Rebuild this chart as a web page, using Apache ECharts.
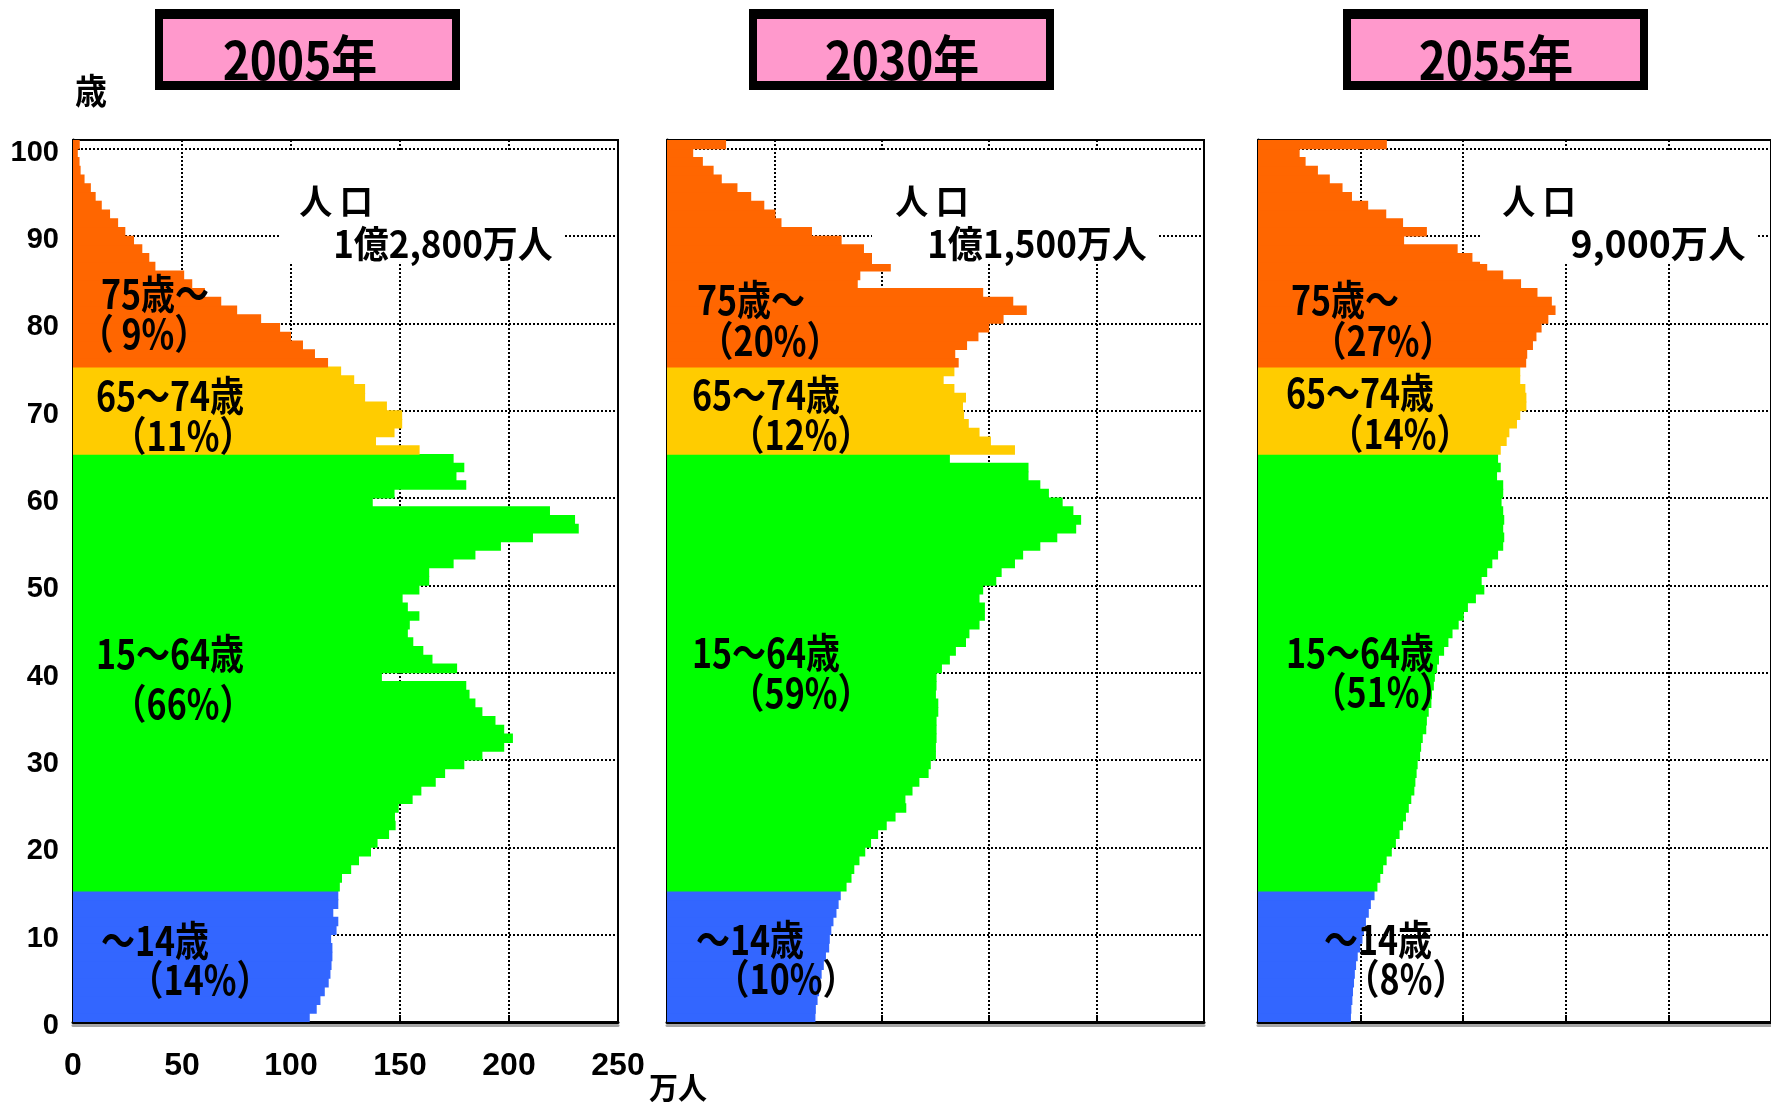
<!DOCTYPE html>
<html><head><meta charset="utf-8">
<script src="https://cdn.jsdelivr.net/npm/echarts@6/dist/echarts.min.js"></script>
<style>html,body{margin:0;padding:0;background:#fff;}#chart{width:1771px;height:1102px;}</style>
</head><body><div id="chart"></div>
<script>
// ---- data ----
const ages = [0,1,2,3,4,5,6,7,8,9,10,11,12,13,14,15,16,17,18,19,20,21,22,23,24,25,26,27,28,29,30,31,32,33,34,35,36,37,38,39,40,41,42,43,44,45,46,47,48,49,50,51,52,53,54,55,56,57,58,59,60,61,62,63,64,65,66,67,68,69,70,71,72,73,74,75,76,77,78,79,80,81,82,83,84,85,86,87,88,89,90,91,92,93,94,95,96,97,98,99,100];
const years = ['2005年','2030年','2055年'];
const totals = ['1億2,800万人','1億1,500万人','9,000万人'];
const groupNames = ['75歳～','65～74歳','15～64歳','～14歳'];
const shares2005 = ['（ 9%）','（11%）','（66%）','（14%）'];
const shares2030 = ['（20%）','（12%）','（59%）','（10%）'];
const shares2055 = ['（27%）','（14%）','（51%）','（8%）'];
const xTickLabels = [0,50,100,150,200,250];
const xUnit = '万人';
const yUnit = '歳';
// population by single age (万人), index = age (100 = 100歳以上)
const pop2005 = [108.6,111.8,113.5,115.5,117.3,118.1,118.6,119,119,118.4,
 120.9,121.7,119.4,121.7,121.7,
 122.4,123.4,127.6,131.2,136.7,139.7,145,148,147.7,149.4,
 155.8,159.8,166.4,170.7,179.5,187.8,197.8,201.8,197.8,193.8,
 187.8,184.6,181.9,180.4,141.7,176.2,164.9,160.7,156.1,153.6,
 154.5,158.9,153.6,151.2,158.9,163.4,163.4,174.6,184.6,196.3,
 211,232,230.3,218.8,137.5,147.5,180.4,175.9,179.5,174.6,
 159,139,147.5,151,151,144,134,134,129,123,
 117,111,105.5,100,95,86.3,75.3,68,60.5,54.7,
 51,37.8,35,31.8,28,24,20.7,17,13.2,10.4,
 8.2,5.3,3.5,3,2.2,3.1];
const pop2030 = [69.1,69.3,70.1,70.8,71.3,72,73,74,75.5,75.8,
 76.5,77.5,78.9,79.9,80.9,
 83.6,85.9,87.2,89.6,92.3,95,98.3,102.3,106.4,111.4,
 111,114.3,117.5,121.8,122.8,125.2,125.2,125.5,125.5,125.5,
 126.3,126.3,125.2,125.5,125.5,128,131.7,134.5,139.2,140.8,
 145.5,148,148,145.5,147.2,153.3,155.8,162,165.8,173.8,
 181.7,190.5,192.8,189.2,184.2,177.8,173.8,168.3,168.3,131.7,
 162,150.8,145.5,140.5,138.3,137.8,139.2,133.8,128.8,133.8,
 135.8,134.2,139.7,145,150,156.7,167.5,161.2,147.2,88.8,
 90,104.2,95.5,91.7,81.3,67.5,53.3,50.5,45.3,39.2,
 32.8,25.5,21.7,16.7,12.2,27.5];
const pop2055 = [45.3,45.5,46,46.3,46.8,47.2,47.8,48.6,49.8,50.9,
 51.6,52.6,54,55,56.8,
 58.2,59.6,61,62.7,65.2,67.2,69,70.7,72.1,73.5,
 74.7,76.2,76.7,77.3,77.8,79,79.5,80.3,82,82.3,
 83.2,84.5,84.8,85.7,86.2,87.3,88.2,90.7,92.8,94.8,
 97.8,100.3,102.3,106.2,110.3,109,111.7,114.2,117,119.5,
 120,119.5,120,119.5,118.7,119.5,119.5,116.5,118.3,117,
 118.3,121.2,122.5,126.2,127.8,130.8,130.8,130.3,127.8,127.8,
 130.7,131.2,134,135.7,138.2,141.5,145,143.2,136.2,128.2,
 119.5,111.7,104.5,97.3,71.2,82.3,70.7,62.5,53.7,45.8,
 41.2,35,29.2,23.2,20.3,62.8];
const groupFloor = [75,65,15,0];

// ---- styling / layout ----
const COLORS = ['#FF6600','#FFCC00','#00FF00','#3366FF'];
const CJK = "'Noto Sans CJK JP', 'Noto Sans', sans-serif";
const NUM = "'Liberation Sans', Arial, sans-serif";
const panels = [
  {left:73, width:545, pop:pop2005, shares:shares2005, title:[155,300], tot:[[336,201],[443,244]], totSx:1.03, box:[279,152,286,112],
   names:[[155,293],[170,395],[170,653],[155,940]], sh:[[144,333],[183,435],[183,703],[200,979]]},
  {left:667, width:537, pop:pop2030, shares:shares2030, title:[749,902], tot:[[932,201],[1037,244]], totSx:1.03, box:[872,152,286,112],
   names:[[751,299],[766,394],[766,652],[750,939]], sh:[[770,340],[801,434],[801,692],[786,978]]},
  {left:1258, width:515, pop:pop2055, shares:shares2055, title:[1343,1496], tot:[[1539,201],[1658,244]], totSx:1.1, box:[1480,152,276,112],
   names:[[1345,299],[1360,392],[1360,652],[1378,939]], sh:[[1383,340],[1400,433],[1383,691],[1406,978]]}
];
const GRID_TOP = 140, GRID_H = 882;

function colorFor(age){ for(let g=0; g<groupFloor.length; g++){ if(age>=groupFloor[g]) return COLORS[g]; } return COLORS[3]; }
function txt(x,y,text,size,opt){
  opt = opt||{};
  return {type:'text', x:x, y:y, z:opt.z||60, scaleX:opt.sx||1, scaleY:opt.sy||1,
    style:{text:text, fontSize:size, fontWeight:'bold', fontFamily:opt.font||CJK, fill:'#000',
      align:opt.align||'center', textAlign:opt.align||'center', verticalAlign:'middle', textVerticalAlign:'middle'}};
}
const dotted = {color:'#000', width:2, type:[2,2]};

const grids=[], xAxes=[], yAxes=[], series=[], graphics=[];
panels.forEach((p,i)=>{
  grids.push({left:p.left, top:GRID_TOP, width:p.width, height:GRID_H, show:true, borderColor:'#000', borderWidth:2, backgroundColor:'rgba(0,0,0,0)'});
  xAxes.push({gridIndex:i, type:'value', min:xTickLabels[0], max:xTickLabels[xTickLabels.length-1], interval:50,
    axisLine:{show:true, onZero:false, lineStyle:{color:'#000', width:3, shadowColor:'rgba(0,0,0,0.35)', shadowOffsetY:3}},
    axisTick:{show:true, inside:true, length:7, lineStyle:{color:'#000', width:2}},
    axisLabel:{show:i===0, fontSize:32, fontWeight:'bold', fontFamily:NUM, color:'#000', margin:28},
    splitLine:{show:true, lineStyle:dotted}});
  yAxes.push({gridIndex:i, type:'category', data:ages, show:false, boundaryGap:true});
  yAxes.push({gridIndex:i, type:'value', min:0, max:101, interval:10, position:'left',
    axisLine:{show:true, onZero:false, lineStyle:{color:'#000', width:3}},
    axisTick:{show:true, inside:true, length:7, lineStyle:{color:'#000', width:2}},
    axisLabel:{show:i===0, showMaxLabel:false, fontSize:29, fontWeight:'bold', fontFamily:NUM, color:'#000', margin:14,
      verticalAlign:'top', lineHeight:8, formatter:v=> (v%10===0 ? String(v) : '')},
    splitLine:{show:true, lineStyle:dotted}});
  series.push({type:'bar', xAxisIndex:i, yAxisIndex:2*i, barWidth:9.6, silent:true,
    data:p.pop.map((v,k)=>({value:v, itemStyle:{color:colorFor(ages[k])}}))});

  // title box
  graphics.push({type:'rect', z:50, shape:{x:p.title[0], y:9, width:305, height:81}, style:{fill:'#000'}});
  graphics.push({type:'rect', z:51, shape:{x:p.title[0]+8, y:19, width:289, height:62}, style:{fill:'#FF99CC'}});
  graphics.push(txt(p.title[1], 60, years[i], 46, {sy:1.15, z:52}));
  // population text box
  graphics.push({type:'rect', z:55, shape:{x:p.box[0], y:p.box[1], width:p.box[2], height:p.box[3]}, style:{fill:'#fff'}});
  graphics.push(txt(p.tot[0][0], p.tot[0][1], '人 口', 33, {sy:1.05}));
  graphics.push(txt(p.tot[1][0], p.tot[1][1], totals[i], 34, {sy:1.1, sx:p.totSx}));
  // group labels
  groupNames.forEach((g,k)=>{
    graphics.push(txt(p.names[k][0], p.names[k][1], g, 34, {sy:1.2}));
    graphics.push(txt(p.sh[k][0], p.sh[k][1], p.shares[k], 34, {sy:1.2}));
  });
});
graphics.push(txt(91, 91, yUnit, 32, {sy:1.1}));
graphics.push(txt(678, 1087, xUnit, 29, {sy:1.05}));

const chart = echarts.init(document.getElementById('chart'), null, {renderer:'canvas'});
chart.setOption({
  animation:false,
  backgroundColor:'#fff',
  grid:grids, xAxis:xAxes, yAxis:yAxes, series:series, graphic:{elements:graphics}
});
</script></body></html>
